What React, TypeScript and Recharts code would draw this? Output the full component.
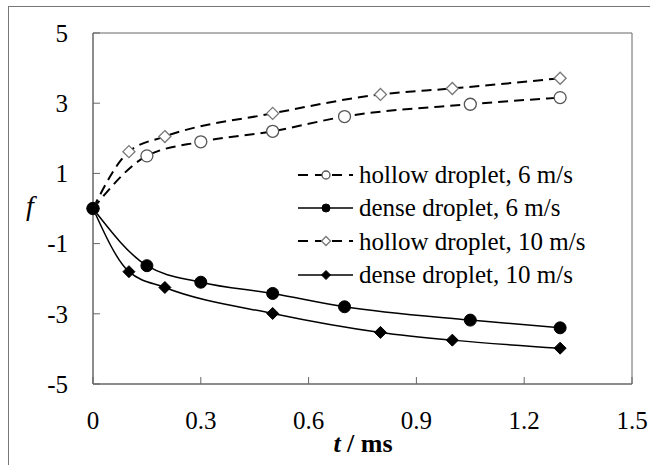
import { Line, LineChart, ReferenceArea, XAxis, YAxis } from 'recharts'

// t / ms values for each series
const hollow6T = [0, 0.15, 0.3, 0.5, 0.7, 1.05, 1.3]
const hollow6F = [0, 1.5, 1.9, 2.2, 2.62, 2.97, 3.16]
const dense6T = [0, 0.15, 0.3, 0.5, 0.7, 1.05, 1.3]
const dense6F = [0, -1.63, -2.1, -2.42, -2.8, -3.18, -3.4]
const hollow10T = [0, 0.1, 0.2, 0.5, 0.8, 1.0, 1.3]
const hollow10F = [0, 1.62, 2.05, 2.71, 3.25, 3.42, 3.71]
const dense10T = [0, 0.1, 0.2, 0.5, 0.8, 1.0, 1.3]
const dense10F = [0, -1.8, -2.25, -2.99, -3.53, -3.75, -3.98]

const xTicks = [0, 0.3, 0.6, 0.9, 1.2, 1.5]
const yTicks = [-5, -3, -1, 1, 3, 5]

const names = [
  'hollow droplet, 6 m/s',
  'dense droplet, 6 m/s',
  'hollow droplet, 10 m/s',
  'dense droplet, 10 m/s',
]

const toRows = (ts: number[], fs: number[]) => ts.map((t, i) => ({ t, f: fs[i] }))

const hollow6 = toRows(hollow6T, hollow6F)
const dense6 = toRows(dense6T, dense6F)
const hollow10 = toRows(hollow10T, hollow10F)
const dense10 = toRows(dense10T, dense10F)

const FONT = '"Times New Roman", Times, "Liberation Serif", serif'
const AXIS = '#666666'

type MarkerKind = 'openCircle' | 'circle' | 'openDiamond' | 'diamond'

function marker(kind: MarkerKind, cx: number, cy: number, key?: number | string, small = false) {
  const r = small ? 4 : 6
  const d = small ? 4.5 : 6
  if (kind === 'openCircle')
    return <circle key={key} cx={cx} cy={cy} r={r} fill='#fff' stroke='#555' strokeWidth={1.3} />
  if (kind === 'circle') return <circle key={key} cx={cx} cy={cy} r={r} fill='#000' stroke='#000' />
  const path = `M${cx},${cy - d} L${cx + d},${cy} L${cx},${cy + d} L${cx - d},${cy} Z`
  if (kind === 'openDiamond')
    return <path key={key} d={path} fill='#fff' stroke='#777' strokeWidth={1.3} />
  return <path key={key} d={path} fill='#000' stroke='#000' />
}

const dotOf = (kind: MarkerKind) => (props: any) => marker(kind, props.cx, props.cy, props.index)

const legendItems: { kind: MarkerKind; dashed: boolean }[] = [
  { kind: 'openCircle', dashed: true },
  { kind: 'circle', dashed: false },
  { kind: 'openDiamond', dashed: true },
  { kind: 'diamond', dashed: false },
]

function LegendBox() {
  return (
    <div style={{ position: 'absolute', left: 298, top: 158, fontFamily: FONT, fontSize: 25, color: '#000' }}>
      {names.map((n, i) => (
        <div key={n} style={{ display: 'flex', alignItems: 'center', height: 33.3 }}>
          <svg width={55} height={20} style={{ marginRight: 6 }}>
            <line
              x1={0}
              y1={10}
              x2={55}
              y2={10}
              stroke='#000'
              strokeWidth={legendItems[i].dashed ? 2 : 1.5}
              strokeDasharray={legendItems[i].dashed ? '10 7' : undefined}
            />
            {marker(legendItems[i].kind, 28, 10, undefined, true)}
          </svg>
          <span style={{ whiteSpace: 'nowrap', lineHeight: 1 }}>{n}</span>
        </div>
      ))}
    </div>
  )
}

export default function App() {
  return (
    <div style={{ position: 'absolute', left: 0, top: 0, width: 650, height: 465, overflow: 'hidden', background: '#fff' }}>
      <div
        style={{
          position: 'absolute',
          left: 8,
          top: 6,
          width: 700,
          height: 500,
          borderLeft: '1px solid #777',
          borderTop: '1px solid #777',
        }}
      />
      <div style={{ position: 'absolute', left: 0, top: 0 }}>
        <LineChart width={650} height={465} margin={{ top: 33, right: 18, bottom: 31, left: 33 }}>
          <XAxis
            type='number'
            dataKey='t'
            domain={[0, 1.5]}
            ticks={xTicks}
            height={50}
            stroke={AXIS}
            tickSize={-7}
            tickMargin={34}
            tick={{ fill: '#000', fontSize: 25, fontFamily: FONT }}
            tickFormatter={(v) => `${v}`}
          />
          <YAxis
            type='number'
            domain={[-5, 5]}
            ticks={yTicks}
            width={60}
            stroke={AXIS}
            tickSize={-7}
            tickMargin={32}
            tick={{ fill: '#000', fontSize: 25, fontFamily: FONT }}
          />
          <ReferenceArea x1={0} x2={1.5} y1={-5} y2={5} fill='none' stroke={AXIS} strokeWidth={1} />
          <Line
            data={hollow6}
            dataKey='f'
            name={names[0]}
            type='monotone'
            stroke='#000'
            strokeWidth={2}
            strokeDasharray='10 6'
            dot={dotOf('openCircle')}
            isAnimationActive={false}
          />
          <Line
            data={hollow10}
            dataKey='f'
            name={names[2]}
            type='monotone'
            stroke='#000'
            strokeWidth={2}
            strokeDasharray='10 6'
            dot={dotOf('openDiamond')}
            isAnimationActive={false}
          />
          <Line
            data={dense10}
            dataKey='f'
            name={names[3]}
            type='monotone'
            stroke='#000'
            strokeWidth={1.5}
            dot={dotOf('diamond')}
            isAnimationActive={false}
          />
          <Line
            data={dense6}
            dataKey='f'
            name={names[1]}
            type='monotone'
            stroke='#000'
            strokeWidth={1.5}
            dot={dotOf('circle')}
            isAnimationActive={false}
          />
        </LineChart>
      </div>
      <LegendBox />
      <div
        style={{
          position: 'absolute',
          left: 26,
          top: 190,
          fontFamily: FONT,
          fontSize: 28,
          fontStyle: 'italic',
        }}
      >
        f
      </div>
      <div
        style={{
          position: 'absolute',
          left: 0,
          width: 726,
          top: 429,
          textAlign: 'center',
          fontFamily: FONT,
          fontSize: 26,
          fontWeight: 'bold',
        }}
      >
        <span style={{ fontStyle: 'italic' }}>t</span> / ms
      </div>
    </div>
  )
}
